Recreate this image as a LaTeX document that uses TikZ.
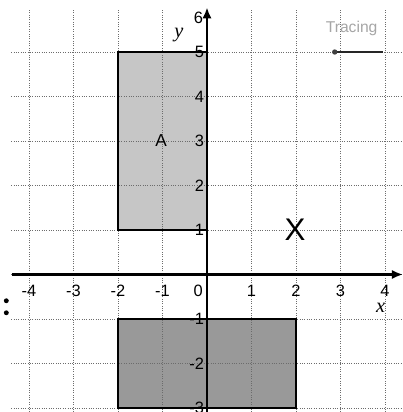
\documentclass[tikz,border=0pt]{standalone}
\usepackage{fontspec}
\setmainfont{Liberation Serif}
\setsansfont{Liberation Sans}
\usetikzlibrary{arrows.meta}
\begin{document}
\begin{tikzpicture}[
  gridline/.style={gray!85!black, line width=0.5pt, densely dotted},
  axisline/.style={black, line width=1.3pt},
  border/.style={black, line width=1.4pt},
  num/.style={font=\sffamily\fontsize{10.5}{12}\selectfont, inner sep=0pt},
  axlabel/.style={font=\itshape\fontsize{13}{14}\selectfont, inner sep=0pt}
]
\useasboundingbox (-4.652,-3.09) rectangle (4.404,6.169);
\fill[white] (-4.652,-3.09) rectangle (4.404,6.169);
% shaded rectangles
\fill[gray!45] (-2,1) rectangle (0,5);
\fill[gray!80] (-2,-3) rectangle (2,-1);
% grid
\foreach \x in {-4,...,4} \draw[gridline] (\x,-3.09) -- (\x,5.95);
\foreach \y in {-3,...,5} \draw[gridline] (-4.4,\y) -- (4.4,\y);
% borders
\draw[border] (-2,1) rectangle (0,5);
\draw[border] (-2,-3) rectangle (2,-1);
% axes
\coordinate (xs) at (-4.38,0);
\coordinate (xe) at (4.4,0);
\coordinate (ys) at (0,-3.09);
\coordinate (ye) at (0,6.0);
\draw[axisline, -{Latex[length=7pt,width=6pt]}] (xs) -- (xe);
\draw[axisline, -{Latex[length=7pt,width=6pt]}] (ys) -- (ye);
% x labels
\foreach \x in {-4,-3,-2,-1,1,2,3,4} \node[num] (xl\x) at (\x,-0.36) {\x};
\node[num] (xl0) at (-0.2,-0.36) {0};
% y labels
\foreach \y in {5,4,3,2,1,-1,-2,-3} \node[num, anchor=east] (yl\y) at (-0.06,\y) {\y};
\node[num, anchor=east] (yl6) at (-0.08,5.76) {6};
\node[axlabel] (ylab) at (-0.63,5.38) {y};
\node[axlabel] (xlab) at (3.9,-0.76) {x};
% texts
\node[font=\sffamily\fontsize{11}{12}\selectfont, inner sep=0pt] (A) at (-1.03,3) {A};
\node[font=\sffamily\fontsize{20}{22}\selectfont, inner sep=0pt] (X) at (1.98,1.0) {X};
\node[font=\sffamily\fontsize{10}{12}\selectfont, text=gray!70, inner sep=0pt] (tr) at (3.25,5.52) {Tracing};
\coordinate (t1) at (2.87,5);
\coordinate (t2) at (3.95,5);
\draw[gray!30!black, line width=1.2pt] (t1) -- (t2);
\fill[gray!50!black] (t1) circle (0.06);
% colon on left
\fill[black] (-4.51,-0.59) circle (0.055);
\fill[black] (-4.51,-0.86) circle (0.055);
\end{tikzpicture}
\end{document}
